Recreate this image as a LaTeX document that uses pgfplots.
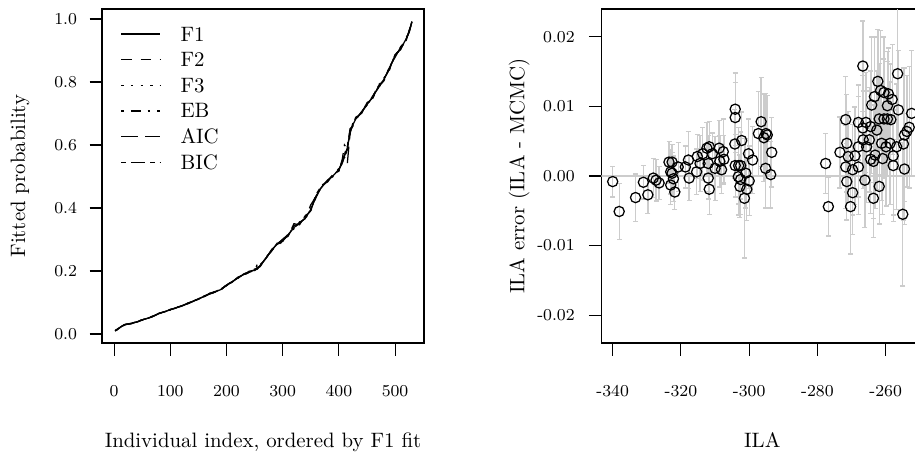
\documentclass[border=0pt]{standalone}
\usepackage{pgfplots}
\pgfplotsset{compat=1.18}
\usepackage{pgfplotstable}
\definecolor{barcol}{gray}{0.8}

% fitted probabilities, individuals ordered by the F1 fit
\pgfplotstableread{
x   F1    F2    F3    EB    AIC   BIC
2   0.010 0.011 0.010 0.010 0.011 0.010
8   0.017 0.018 0.016 0.017 0.017 0.018
14  0.025 0.025 0.024 0.026 0.025 0.025
20  0.030 0.029 0.030 0.030 0.031 0.030
30  0.033 0.034 0.033 0.032 0.033 0.034
40  0.038 0.038 0.039 0.038 0.037 0.038
50  0.045 0.044 0.045 0.046 0.045 0.044
60  0.050 0.051 0.050 0.049 0.050 0.051
70  0.057 0.056 0.058 0.057 0.056 0.057
80  0.065 0.066 0.064 0.065 0.066 0.065
90  0.071 0.070 0.072 0.071 0.070 0.072
100 0.077 0.078 0.076 0.077 0.078 0.077
110 0.083 0.082 0.084 0.083 0.082 0.084
120 0.089 0.091 0.088 0.090 0.089 0.088
130 0.096 0.095 0.097 0.095 0.097 0.096
140 0.104 0.103 0.105 0.104 0.103 0.105
150 0.111 0.113 0.110 0.112 0.111 0.110
160 0.119 0.118 0.121 0.119 0.120 0.118
170 0.127 0.129 0.126 0.128 0.127 0.129
180 0.134 0.132 0.135 0.134 0.133 0.135
190 0.141 0.143 0.140 0.142 0.144 0.140
200 0.155 0.154 0.156 0.153 0.155 0.156
210 0.166 0.168 0.165 0.167 0.166 0.164
220 0.178 0.176 0.179 0.177 0.178 0.180
230 0.188 0.190 0.187 0.189 0.186 0.188
240 0.196 0.198 0.195 0.197 0.199 0.195
250 0.203 0.201 0.206 0.200 0.203 0.205
255 0.207 0.212 0.204 0.222 0.206 0.209
260 0.218 0.215 0.220 0.216 0.219 0.214
270 0.240 0.243 0.238 0.241 0.239 0.242
280 0.266 0.262 0.268 0.264 0.267 0.263
290 0.284 0.287 0.281 0.285 0.283 0.288
300 0.295 0.299 0.293 0.297 0.301 0.294
310 0.315 0.312 0.318 0.314 0.316 0.311
320 0.338 0.345 0.334 0.342 0.336 0.350
330 0.352 0.348 0.356 0.351 0.354 0.347
340 0.367 0.372 0.363 0.369 0.366 0.375
350 0.395 0.391 0.399 0.394 0.410 0.392
360 0.440 0.436 0.444 0.441 0.438 0.445
370 0.468 0.472 0.465 0.470 0.467 0.473
380 0.487 0.484 0.490 0.486 0.489 0.483
390 0.503 0.507 0.500 0.505 0.502 0.508
400 0.522 0.518 0.526 0.520 0.524 0.517
405 0.540 0.545 0.536 0.542 0.538 0.548
410 0.565 0.560 0.570 0.600 0.562 0.568
415 0.590 0.585 0.596 0.588 0.540 0.594
420 0.640 0.648 0.635 0.643 0.638 0.652
425 0.665 0.660 0.670 0.663 0.668 0.661
430 0.682 0.686 0.679 0.684 0.680 0.688
440 0.703 0.700 0.707 0.702 0.705 0.699
450 0.728 0.732 0.724 0.730 0.726 0.734
460 0.752 0.749 0.756 0.751 0.755 0.747
470 0.782 0.786 0.778 0.790 0.780 0.785
480 0.808 0.805 0.812 0.807 0.810 0.803
490 0.842 0.846 0.838 0.844 0.840 0.848
500 0.885 0.880 0.889 0.883 0.887 0.878
510 0.905 0.910 0.901 0.907 0.903 0.912
520 0.938 0.934 0.942 0.937 0.940 0.933
525 0.958 0.962 0.955 0.960 0.957 0.963
530 0.992 0.988 0.994 0.990 0.993 0.989
}\fits

% ILA value, ILA error and half-width of its interval
\pgfplotstableread{
x      y       e
-340.0 -0.0008 0.0022
-338.1 -0.0051 0.0040
-333.3 -0.0031 0.0034
-331.0 -0.0009 0.0024
-329.7 -0.0027 0.0027
-328.1 -0.0003 0.0028
-327.3 -0.0006 0.0030
-326.4 -0.0010 0.0024
-323.5  0.0020 0.0030
-323.0  0.0006 0.0032
-323.0 -0.0013 0.0028
-322.6  0.0020 0.0025
-322.6  0.0004 0.0030
-322.2 -0.0004 0.0033
-321.8 -0.0023 0.0025
-320.8  0.0013 0.0035
-318.7  0.0013 0.0030
-317.8  0.0023 0.0041
-317.6 -0.0003 0.0032
-315.4  0.0006 0.0033
-315.2  0.0028 0.0032
-314.4  0.0018 0.0040
-313.6  0.0032 0.0038
-312.4  0.0040 0.0037
-312.0  0.0018 0.0040
-312.0 -0.0003 0.0030
-311.7 -0.0019 0.0036
-311.7  0.0042 0.0036
-310.8  0.0032 0.0030
-310.0  0.0011 0.0046
-308.8  0.0040 0.0040
-308.6  0.0021 0.0037
-308.1  0.0009 0.0034
-307.6  0.0035 0.0047
-307.4  0.0024 0.0034
-304.1  0.0096 0.0052
-304.1  0.0084 0.0050
-304.2  0.0046 0.0050
-304.1  0.0015 0.0045
-303.1  0.0015 0.0055
-302.5  0.0015 0.0048
-303.2 -0.0001 0.0055
-302.7 -0.0015 0.0045
-302.2  0.0051 0.0041
-302.5 -0.0005 0.0050
-301.4 -0.0032 0.0086
-301.0  0.0004 0.0050
-300.7 -0.0019 0.0045
-300.2  0.0032 0.0050
-300.0 -0.0007 0.0050
-299.0  0.0023 0.0048
-297.3  0.0061 0.0060
-296.5  0.0078 0.0064
-295.7  0.0055 0.0063
-295.2  0.0011 0.0057
-295.1  0.0061 0.0058
-294.7  0.0059 0.0057
-293.7  0.0002 0.0048
-293.4  0.0034 0.0050
-277.6  0.0018 0.0043
-276.8 -0.0044 0.0042
-273.4  0.0034 0.0051
-271.7  0.0081 0.0062
-271.4  0.0047 0.0070
-271.4 -0.0008 0.0055
-271.7  0.0013 0.0060
-271.0  0.0028 0.0065
-270.3 -0.0044 0.0068
-269.7 -0.0024 0.0060
-269.7  0.0009 0.0065
-269.0  0.0029 0.0070
-268.0  0.0042 0.0072
-268.0  0.0013 0.0068
-268.0  0.0077 0.0054
-266.7  0.0158 0.0065
-266.7  0.0069 0.0075
-266.6  0.0052 0.0070
-266.1 -0.0006 0.0068
-265.8  0.0077 0.0072
-265.6  0.0042 0.0080
-264.8  0.0052 0.0075
-264.4  0.0071 0.0080
-264.4  0.0024 0.0078
-264.1  0.0102 0.0098
-263.6 -0.0032 0.0056
-263.6  0.0021 0.0082
-263.3  0.0114 0.0086
-263.1  0.0030 0.0077
-262.6  0.0066 0.0085
-262.3  0.0136 0.0075
-261.9  0.0082 0.0080
-261.9 -0.0015 0.0054
-261.5  0.0123 0.0086
-261.2  0.0047 0.0082
-260.9  0.0025 0.0080
-260.5  0.0082 0.0086
-260.5  0.0120 0.0080
-259.9  0.0042 0.0085
-259.5  0.0101 0.0078
-259.2  0.0118 0.0066
-259.5  0.0082 0.0083
-258.7  0.0047 0.0088
-258.5  0.0081 0.0080
-258.1  0.0110 0.0079
-257.8  0.0029 0.0085
-257.8  0.0015 0.0080
-256.8  0.0042 0.0090
-256.5  0.0147 0.0095
-256.3  0.0095 0.0085
-255.0 -0.0055 0.0103
-254.8  0.0046 0.0109
-254.5  0.0010 0.0080
-254.5  0.0059 0.0096
-253.8  0.0064 0.0080
-253.1  0.0070 0.0087
-252.4  0.0090 0.0090
}\ila

\begin{document}
\begin{tikzpicture}
\pgfplotsset{
  rplot/.style={
    scale only axis, width=154.56pt, height=160.32pt,
    anchor=south west,
    axis line style={line width=0.5pt},
    tick align=outside, major tick length=6pt,
    tick style={black, line width=0.5pt},
    tick pos=left,
    ticklabel style={font=\footnotesize},
    xticklabel style={anchor=base, inner sep=0pt},
    yticklabel style={anchor=east, inner sep=0pt},
    xticklabel shift=19.44pt,
    scaled ticks=false,
    every axis y label/.style={at={([xshift=-39.4pt]axis description cs:0,0.5)}, rotate=90, anchor=center},
    every axis x label/.style={at={([yshift=-49.92pt]axis description cs:0.5,0)}, anchor=base},
    label style={font=\normalsize},
  }
}

\begin{axis}[rplot, at={(48.96pt,52.8pt)},
  xmin=-21.5, xmax=551.5, ymin=-0.0286, ymax=1.0317,
  xtick={0,100,200,300,400,500}, xticklabels={0,100,200,300,400,500},
  ytick={0,0.2,0.4,0.6,0.8,1}, yticklabels={0.0,0.2,0.4,0.6,0.8,1.0},
  yticklabel shift=5.86pt,
  xlabel={Individual index, ordered by F1 fit},
  ylabel={Fitted probability},
  legend cell align=left,
  legend image code/.code={\draw[#1] (0pt,0pt) -- (18.5pt,0pt);},
  legend style={draw=none, fill=none, at={([xshift=9pt,yshift=-8.6pt]axis description cs:0,1)},
    anchor=north west, inner sep=0pt, outer sep=0pt, row sep=5.5pt, column sep=9.6pt,
    font=\normalsize, nodes={inner sep=0pt, text height=6.8pt, text depth=0pt}},
  every axis plot/.append style={black, line width=0.6pt, mark=none},
]
\addplot[solid] table[x=x, y=F1] {\fits};
\addlegendentry{F1}
\addplot[dash pattern=on 5pt off 4.2pt] table[x=x, y=F2] {\fits};
\addlegendentry{F2}
\addplot[dash pattern=on 1.2pt off 3.4pt] table[x=x, y=F3] {\fits};
\addlegendentry{F3}
\addplot[dash pattern=on 1.2pt off 3.4pt on 4.6pt off 3.4pt] table[x=x, y=EB] {\fits};
\addlegendentry{EB}
\addplot[dash pattern=on 8pt off 3.4pt] table[x=x, y=AIC] {\fits};
\addlegendentry{AIC}
\addplot[dash pattern=on 2.3pt off 2.3pt on 6.9pt off 2.3pt] table[x=x, y=BIC] {\fits};
\addlegendentry{BIC}
\end{axis}

\begin{axis}[rplot, at={(288.62pt,52.8pt)},
  xmin=-343.34, xmax=-248.98, ymin=-0.024, ymax=0.024,
  xtick={-340,-320,-300,-280,-260}, xticklabels={-340,-320,-300,-280,-260},
  ytick={-0.02,-0.01,0,0.01,0.02}, yticklabels={-0.02,-0.01,0.00,0.01,0.02},
  yticklabel shift=6.6pt,
  xlabel={ILA},
  ylabel={ILA error (ILA - MCMC)},
]
\addplot[barcol, line width=0.8pt, forget plot] coordinates {(-360,0) (-240,0)};
\addplot[draw=none, mark=none, forget plot,
  error bars/.cd, y dir=both, y explicit,
  error bar style={draw=barcol, line width=0.65pt},
  error mark options={draw=barcol, line width=0.65pt, mark size=1.2pt, rotate=90}]
  table[x=x, y=y, y error=e] {\ila};
\addplot[only marks, mark=o, mark size=2.45pt, black,
  mark options={line width=0.6pt}]
  table[x=x, y=y] {\ila};
\end{axis}

\pgfresetboundingbox
\path[use as bounding box] (0,0) rectangle (439.2pt,217.44pt);
\end{tikzpicture}
\end{document}
